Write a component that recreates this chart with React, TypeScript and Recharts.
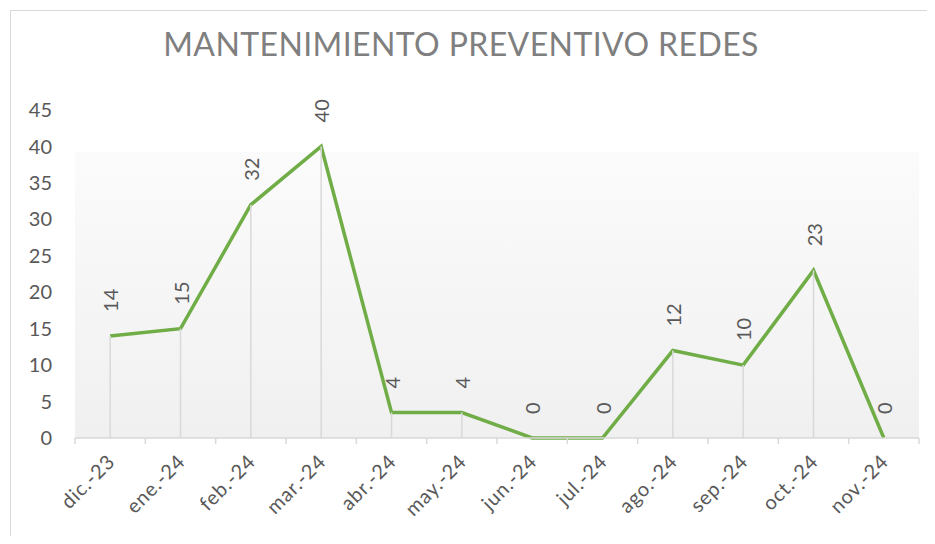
import React from "react";
import { LineChart, Line, XAxis, YAxis, CartesianGrid, LabelList } from "recharts";

const months = [
  "dic.-23",
  "ene.-24",
  "feb.-24",
  "mar.-24",
  "abr.-24",
  "may.-24",
  "jun.-24",
  "jul.-24",
  "ago.-24",
  "sep.-24",
  "oct.-24",
  "nov.-24",
];
const preventivo = [14, 15, 32, 40, 3.5, 3.5, 0, 0, 12, 10, 23, 0];
const yTicks = [0, 5, 10, 15, 20, 25, 30, 35, 40, 45];

const CHART_W = 935;
const CHART_H = 544;
const Y_W = 75;
const M_TOP = 110;
const M_RIGHT = 16;
const M_BOTTOM = 26;
const X_H = 80;
const PLOT_BOTTOM = CHART_H - M_BOTTOM - X_H;
const HALF = (CHART_W - Y_W - M_RIGHT) / months.length / 2;

const FONT = "Lato, 'Open Sans', sans-serif";
const GREY = "#595959";

const data = months.map((m, i) => ({ month: m, value: preventivo[i] }));

function MonthTick(props: any) {
  const { x, y, payload, index } = props;
  const last = index === months.length - 1;
  return (
    <g>
      <line x1={x - HALF} y1={y} x2={x - HALF} y2={y + 6} stroke="#d9d9d9" strokeWidth={1.5} />
      {last && (
        <line x1={x + HALF} y1={y} x2={x + HALF} y2={y + 6} stroke="#d9d9d9" strokeWidth={1.5} />
      )}
      <text
        transform={`translate(${x + 6},${y + 25}) rotate(-45)`}
        textAnchor="end"
        fill={GREY}
        fontSize={20}
        fontFamily={FONT}
        letterSpacing={0.8}
      >
        {payload.value}
      </text>
    </g>
  );
}

function DropLine(props: any) {
  const { cx, cy, index } = props;
  return (
    <line
      key={`drop-${index}`}
      x1={cx}
      y1={cy}
      x2={cx}
      y2={PLOT_BOTTOM}
      stroke="#d9d9d9"
      strokeWidth={1.5}
    />
  );
}

function ValueLabel(props: any) {
  const { x, y, value } = props;
  return (
    <text
      transform={`translate(${x},${y - 24}) rotate(-90)`}
      textAnchor="start"
      dominantBaseline="central"
      fill={GREY}
      fontSize={20}
      fontFamily={FONT}
    >
      {Math.round(value)}
    </text>
  );
}

export default function App() {
  return (
    <div style={{ position: "relative", width: CHART_W, height: CHART_H, margin: -8, background: "#fff", overflow: "hidden" }}>
      <svg width={0} height={0} style={{ position: "absolute" }}>
        <defs>
          <linearGradient id="plotBg" x1="0" y1="0" x2="0" y2="1">
            <stop offset="0" stopColor="#ffffff" />
            <stop offset="0.127" stopColor="#ffffff" />
            <stop offset="0.128" stopColor="#fbfbfb" />
            <stop offset="1" stopColor="#f0f0f0" />
          </linearGradient>
        </defs>
      </svg>
      <div
        style={{
          position: "absolute",
          left: 10,
          top: 10,
          width: CHART_W,
          height: CHART_H + 20,
          border: "1.5px solid #d9d9d9",
          boxSizing: "border-box",
        }}
      />
      <div
        style={{
          position: "absolute",
          top: 24,
          left: 0,
          width: 922,
          textAlign: "center",
          fontFamily: FONT,
          fontSize: 32,
          lineHeight: "40px",
          color: "#7f7f7f",
          letterSpacing: 0.4,
        }}
      >
        MANTENIMIENTO PREVENTIVO REDES
      </div>
      <div style={{ position: "absolute", left: 0, top: 0 }}>
        <LineChart
          width={CHART_W}
          height={CHART_H}
          data={data}
          margin={{ top: M_TOP, right: M_RIGHT, bottom: M_BOTTOM, left: 0 }}
        >
          <CartesianGrid horizontal={false} vertical={false} fill="url(#plotBg)" stroke="none" />
          <XAxis
            dataKey="month"
            height={X_H}
            padding={{ left: HALF, right: HALF }}
            tickLine={false}
            tickSize={0}
            tickMargin={0}
            axisLine={{ stroke: "#d9d9d9", strokeWidth: 1.5 }}
            tick={<MonthTick />}
            interval={0}
          />
          <YAxis
            width={Y_W}
            domain={[0, 45]}
            ticks={yTicks}
            tickLine={false}
            axisLine={false}
            tickSize={0}
            tickMargin={23}
            tick={{ fill: GREY, fontSize: 20, fontFamily: FONT }}
            interval={0}
          />
          <Line
            dataKey="value"
            stroke="none"
            dot={DropLine}
            activeDot={false}
            isAnimationActive={false}
          />
          <Line
            dataKey="value"
            stroke="#70ad47"
            strokeWidth={3.5}
            dot={false}
            activeDot={false}
            isAnimationActive={false}
          >
            <LabelList dataKey="value" content={ValueLabel} />
          </Line>
        </LineChart>
      </div>
    </div>
  );
}
